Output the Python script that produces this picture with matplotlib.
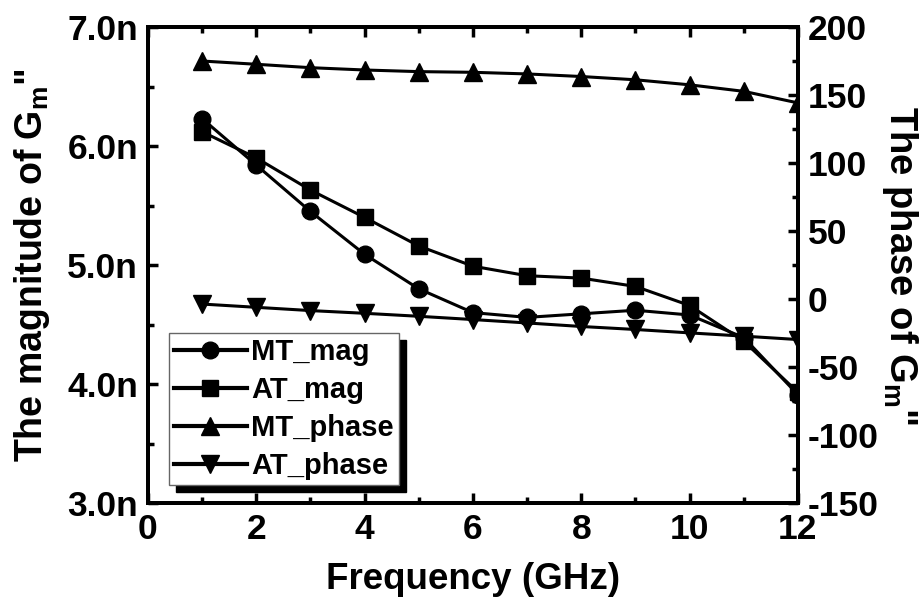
import matplotlib
matplotlib.use("Agg")
import matplotlib.pyplot as plt
from matplotlib.ticker import MultipleLocator, FuncFormatter

plt.rcParams['font.family'] = ['Liberation Sans', 'DejaVu Sans']
plt.rcParams['font.weight'] = 'bold'
plt.rcParams['axes.unicode_minus'] = False
plt.rcParams['mathtext.fontset'] = 'custom'
plt.rcParams['mathtext.rm'] = 'Liberation Sans'
plt.rcParams['mathtext.bf'] = 'Liberation Sans:bold'

# data
freq = [1, 2, 3, 4, 5, 6, 7, 8, 9, 10, 11, 12]  # GHz
mt_mag = [6.23, 5.84, 5.45, 5.09, 4.80, 4.60, 4.56, 4.59, 4.62, 4.58, 4.39, 3.91]  # n
at_mag = [6.12, 5.90, 5.63, 5.40, 5.16, 4.99, 4.91, 4.89, 4.82, 4.66, 4.36, 3.93]  # n
mt_phase = [175.0, 172.6, 170.1, 168.4, 167.2, 166.7, 165.5, 163.6, 161.2, 157.5, 152.7, 144.2]
at_phase = [-3.7, -6.1, -8.5, -10.5, -12.7, -15.1, -17.6, -20.2, -22.4, -24.9, -27.3, -29.8]

fig = plt.figure(figsize=(9.23, 6.03), dpi=100)
ax = fig.add_axes([0.1603, 0.1658, 0.7042, 0.7894])
ax2 = ax.twinx()

lw = 2.2
ms = 12
l1, = ax.plot(freq, mt_mag, '-o', color='black', lw=lw, ms=ms, label='MT_mag')
l2, = ax.plot(freq, at_mag, '-s', color='black', lw=lw, ms=ms - 1, label='AT_mag')
l3, = ax2.plot(freq, mt_phase, '-^', color='black', lw=lw, ms=ms + 1, label='MT_phase')
l4, = ax2.plot(freq, at_phase, '-v', color='black', lw=lw, ms=ms + 1, label='AT_phase')

ax.set_xlim(0, 12)
ax.set_ylim(3.0, 7.0)
ax2.set_ylim(-150, 200)

ax.xaxis.set_major_locator(MultipleLocator(2))
ax.xaxis.set_minor_locator(MultipleLocator(1))
ax.yaxis.set_major_locator(MultipleLocator(1))
ax.yaxis.set_minor_locator(MultipleLocator(0.5))
ax.yaxis.set_major_formatter(FuncFormatter(lambda v, p: f"{v:.1f}n"))
ax2.yaxis.set_major_locator(MultipleLocator(50))
ax2.yaxis.set_minor_locator(MultipleLocator(25))

for a in (ax, ax2):
    for s in a.spines.values():
        s.set_linewidth(2.8)
    a.tick_params(which='both', direction='in', width=2.5, labelsize=25.5, pad=7)
    a.tick_params(which='major', length=7)
    a.tick_params(which='minor', length=4)
ax.tick_params(axis='x', which='both', top=True)
ax.tick_params(axis='y', which='both', right=False)

ax.set_xlabel('Frequency (GHz)', fontsize=26.5, fontweight='bold', labelpad=12)
ax.set_ylabel(r'The magnitude of G$_\mathregular{m}$"', fontsize=27, fontweight='bold', labelpad=11)
ax2.set_ylabel(r'The phase of G$_\mathregular{m}$"', fontsize=27.5, fontweight='bold',
               rotation=270, labelpad=30)

leg = ax2.legend(handles=[l1, l2, l3, l4], loc='upper left', bbox_to_anchor=(0.032, 0.357),
                 borderaxespad=0, fontsize=21, fancybox=False, framealpha=1,
                 edgecolor='#666666', handlelength=2.5, handletextpad=0.15,
                 labelspacing=0.34, borderpad=0.18,
                 shadow={'ox': 5, 'oy': -5, 'color': 'black', 'alpha': 1})
leg.get_frame().set_linewidth(1.0)
for line in leg.get_lines():
    line.set_linewidth(3)

fig.savefig('out.png', dpi=100)
